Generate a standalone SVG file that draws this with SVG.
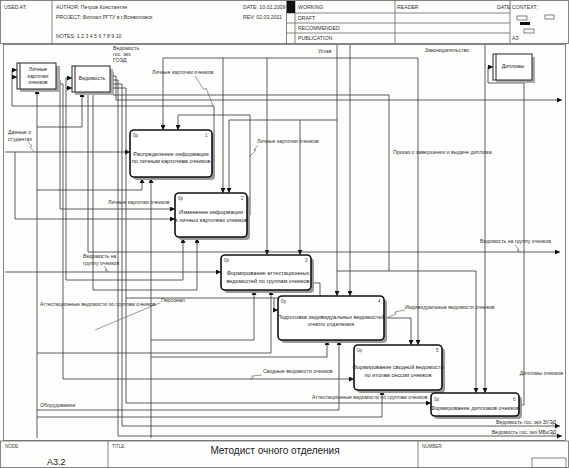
<svg xmlns="http://www.w3.org/2000/svg" width="569" height="468" viewBox="0 0 569 468">
<defs>
<marker id="ar" viewBox="0 0 8 8" refX="8" refY="4" markerWidth="5" markerHeight="5" markerUnits="userSpaceOnUse" orient="auto"><path d="M0,0L8,4L0,8z" fill="#111"/></marker>
<style>
text{font-family:"Liberation Sans",Arial,sans-serif;fill:#333}
.h{font-size:5.2px}
.l{font-size:5.2px}
.b{font-size:5.6px;text-anchor:middle;fill:#222}
.n{font-size:4.5px;fill:#444}
.frame{fill:none;stroke:#666;stroke-width:0.8}
.c path{fill:none;stroke:#333;stroke-width:0.8}
.c path.a{marker-end:url(#ar)}
.sq{fill:none;stroke:#555;stroke-width:0.6}
.box rect.s{fill:#9a9a9a}
.box rect.m{fill:#fff;stroke:#111;stroke-width:1.6}
.ref rect.s{fill:#aaa}
.ref rect.m{fill:#fff;stroke:#222;stroke-width:1}
</style>
</defs>
<rect x="0" y="0" width="569" height="468" fill="#fdfdfb"/>
<!-- header -->
<g id="header">
<rect class="frame" x="0.5" y="0.5" width="568" height="43"/>
<line class="frame" x1="52" y1="0.5" x2="52" y2="43.5"/>
<line class="frame" x1="286.5" y1="0.5" x2="286.5" y2="43.5"/>
<line class="frame" x1="295" y1="0.5" x2="295" y2="43.5"/>
<line class="frame" x1="395" y1="0.5" x2="395" y2="43.5"/>
<line class="frame" x1="510" y1="0.5" x2="510" y2="43.5"/>
<line class="frame" x1="286.5" y1="13" x2="510" y2="13"/>
<line class="frame" x1="286.5" y1="23" x2="510" y2="23"/>
<line class="frame" x1="286.5" y1="33" x2="510" y2="33"/>
<rect x="287" y="1" width="8" height="12" fill="#111"/>
<text class="h" x="4" y="9">USED AT:</text>
<text class="h" x="56" y="9">AUTHOR:  Петров Константин</text>
<text class="h" x="56" y="19">PROJECT:  Филиал РГТУ в г.Всеволожск</text>
<text class="h" x="56" y="38">NOTES:  1  2  3  4  5  6  7  8  9  10</text>
<text class="h" x="243" y="9">DATE:  10.02.2009</text>
<text class="h" x="243" y="19">REV:  02.03.2011</text>
<text class="h" x="298" y="9">WORKING</text>
<text class="h" x="298" y="20">DRAFT</text>
<text class="h" x="298" y="30">RECOMMENDED</text>
<text class="h" x="298" y="40">PUBLICATION</text>
<text class="h" x="397" y="9">READER</text>
<text class="h" x="497" y="9">DATE</text>
<text class="h" x="512" y="9">CONTEXT:</text>
<text class="h" x="512" y="40">A3</text>
<rect x="517" y="16" width="10" height="4" fill="none" stroke="#333" stroke-width="0.6"/>
<rect x="545" y="15" width="9" height="4" fill="none" stroke="#333" stroke-width="0.6"/>
<rect x="520" y="22" width="10" height="3" fill="#111"/>
<rect x="524" y="29" width="10" height="4" fill="none" stroke="#333" stroke-width="0.6"/>
</g>
<!-- diagram frame -->
<rect class="frame" x="3.5" y="44.5" width="562" height="396"/>
<!-- footer -->
<g id="footer">
<rect class="frame" x="0.5" y="441" width="568" height="26.5"/>
<line class="frame" x1="108" y1="441" x2="108" y2="468"/>
<line class="frame" x1="418" y1="441" x2="418" y2="468"/>
<rect x="532" y="458" width="34" height="10" fill="none" stroke="#555" stroke-width="0.7"/>
<text class="n" x="5" y="448">NODE:</text>
<text class="n" x="112" y="448">TITLE:</text>
<text class="n" x="422" y="448">NUMBER:</text>
<text x="47" y="465" style="font-size:9px;fill:#222">A3.2</text>
<text x="275" y="454" style="font-size:10px;fill:#222;text-anchor:middle">Методист очного отделения</text>
</g>
<!-- connectors -->
<g id="connectors" class="c">
<path class="a" d="M212,158H214V106H12V70H17"/>
<path class="a" d="M12,77H17"/>
<path class="a" d="M247,215H250V115H178V130"/>
<path class="a" d="M337,45V296"/>
<path class="a" d="M337,120H229V193"/>
<path class="a" d="M300,120V255"/>
<path class="a" d="M350,45V296"/>
<path class="a" d="M350,58H163V130"/>
<path class="a" d="M223,58V193"/>
<path class="a" d="M267,58V255"/>
<path class="a" d="M350,58H418V345"/>
<path class="a" d="M485,45V393"/>
<path d="M110,72H113V95H389V271"/>
<path class="a" d="M337,271H476V393"/>
<path class="a" d="M110,76H116V100H562"/>
<path class="a" d="M110,80H118V436H562"/>
<path class="a" d="M110,84H122V426H560"/>
<path class="a" d="M110,88H126V403H431"/>
<path d="M311,283H320V298H126"/>
<path class="a" d="M274,298V310H278"/>
<path class="a" d="M88,92V252H560"/>
<path class="a" d="M93,92V290H197V238"/>
<path class="a" d="M37,438V89"/>
<path class="a" d="M37,190H142V178"/>
<path class="a" d="M37,353H271V290"/>
<path class="a" d="M37,410H339V340"/>
<path class="a" d="M37,417H382V390"/>
<path class="a" d="M37,127H82V92"/>
<path class="a" d="M151,438V178"/>
<path class="a" d="M151,340H254V290"/>
<path class="a" d="M151,357H327V340"/>
<path class="a" d="M5,152H130"/>
<path class="a" d="M15,152V219H175"/>
<path class="a" d="M57,80H60V209H175"/>
<path class="a" d="M57,84H63V379H354"/>
<path class="a" d="M66,280V78H72"/>
<path class="a" d="M66,88H72"/>
<path class="a" d="M66,280H183V238"/>
<path class="a" d="M5,272H221"/>
<path class="a" d="M384,318H411V345"/>
<path class="a" d="M519,405H524V83H488V67H493"/>
</g>
<!-- label squiggles -->
<g id="squiggles">
<path class="sq" d="M28,142L32,146L30,147L34,152"/>
<path class="sq" d="M195,76L204,90L206,88L213,106"/>
<path class="sq" d="M258,145L254,150L256,150L250,156"/>
<path class="sq" d="M104,266L107,270L105,270L109,272"/>
<path class="sq" d="M515,245L519,250L517,250L521,253"/>
<path class="sq" d="M405,310L395,312L396,314L386,318"/>
<path class="sq" d="M262,375L252,376L253,378L250,379"/>
<path class="sq" d="M160,303L152,306"/>
<path class="sq" d="M95,330L152,306"/>
</g>
<!-- labels -->
<g id="labels">
<text class="l" x="8" y="134">Данные о</text>
<text class="l" x="8" y="141">студентах</text>
<text class="l" x="113" y="50">Ведомость</text>
<text class="l" x="113" y="56">гос. экз</text>
<text class="l" x="113" y="62">ГОЭД</text>
<text class="l" x="152" y="74">Личные карточки очников</text>
<text class="l" x="318" y="53">Устав</text>
<text class="l" x="425" y="52">Законодательство</text>
<text class="l" x="257" y="143">Личные карточки очников</text>
<text class="l" x="393" y="154">Приказ о завершении и выдаче диплома</text>
<text class="l" x="108" y="204">Личные карточки очников</text>
<text class="l" x="83" y="258">Ведомость на</text>
<text class="l" x="83" y="265">группу очников</text>
<text class="l" x="480" y="243">Ведомость на группу очников</text>
<text class="l" x="40" y="306">Аттестационные ведомости по группам очников</text>
<text class="l" x="161" y="302">Персонал</text>
<text class="l" x="405" y="309">Индивидуальные ведомости очников</text>
<text class="l" x="263" y="373">Сводные ведомости очников</text>
<text class="l" x="563" y="375" text-anchor="end">Дипломы очников</text>
<text class="l" x="312" y="399">Аттестационные ведомости по группам очников</text>
<text class="l" x="40" y="407">Оборудование</text>
<text class="l" x="556" y="424" text-anchor="end">Ведомость гос. экз ЗУЭД</text>
<text class="l" x="556" y="434" text-anchor="end">Ведомость гос. экз МБиЭД</text>
</g>
<!-- reference boxes -->
<g id="refA" class="ref">
<rect class="s" x="20" y="66" width="40" height="26"/>
<rect class="m" x="17" y="63" width="39" height="26"/>
<line x1="20" y1="63" x2="20" y2="89" stroke="#222" stroke-width="1"/>
<text class="b" x="38" y="71" style="font-size:5.2px">Личные</text>
<text class="b" x="38" y="77.5" style="font-size:5.2px">карточки</text>
<text class="b" x="38" y="84" style="font-size:5.2px">очников</text>
</g>
<g id="refB" class="ref">
<rect class="s" x="75" y="69" width="38" height="26"/>
<rect class="m" x="72" y="66" width="38" height="26"/>
<line x1="75" y1="66" x2="75" y2="92" stroke="#222" stroke-width="1"/>
<text class="b" x="92" y="80" style="font-size:5.2px">Ведомость</text>
</g>
<g id="refC" class="ref">
<rect class="s" x="496" y="57" width="39" height="26"/>
<rect class="m" x="493" y="54" width="39" height="26"/>
<line x1="496" y1="54" x2="496" y2="80" stroke="#222" stroke-width="1"/>
<text class="b" x="513" y="68" style="font-size:5.2px">Дипломы</text>
</g>
<!-- activity boxes -->
<g id="box1" class="box">
<rect class="s" x="133" y="133" width="82" height="47" rx="4"/>
<rect class="m" x="130" y="130" width="82" height="47" rx="4"/>
<text class="n" x="133" y="137">0р</text><text class="n" x="205" y="137">1</text>
<text class="b" x="171" y="156">Распределение информации</text>
<text class="b" x="171" y="163">по личным карточкам очников</text>
</g>
<g id="box2" class="box">
<rect class="s" x="178" y="196" width="72" height="44" rx="4"/>
<rect class="m" x="175" y="193" width="72" height="44" rx="4"/>
<text class="n" x="178" y="200">0р</text><text class="n" x="241" y="200">2</text>
<text class="b" x="211" y="214">Изменение информации</text>
<text class="b" x="211" y="222">в личных карточках очников</text>
</g>
<g id="box3" class="box">
<rect class="s" x="224" y="258" width="90" height="35" rx="4"/>
<rect class="m" x="221" y="255" width="90" height="35" rx="4"/>
<text class="n" x="224" y="262">0р</text><text class="n" x="305" y="262">3</text>
<text class="b" x="268" y="275">Формирование аттестационных</text>
<text class="b" x="268" y="283">ведомостей по группам очников</text>
</g>
<g id="box4" class="box">
<rect class="s" x="281" y="299" width="106" height="44" rx="4"/>
<rect class="m" x="278" y="296" width="106" height="44" rx="4"/>
<text class="n" x="281" y="303">0р</text><text class="n" x="378" y="303">4</text>
<text class="b" x="331" y="319">Подготовка индивидуальных ведомостей</text>
<text class="b" x="331" y="326">очного отделения</text>
</g>
<g id="box5" class="box">
<rect class="s" x="357" y="348" width="88" height="45" rx="4"/>
<rect class="m" x="354" y="345" width="88" height="45" rx="4"/>
<text class="n" x="357" y="352">0р</text><text class="n" x="436" y="352">5</text>
<text class="b" x="398" y="369">Формирование сводной ведомости</text>
<text class="b" x="398" y="377">по итогам сессии очников</text>
</g>
<g id="box6" class="box">
<rect class="s" x="434" y="396" width="88" height="23" rx="4"/>
<rect class="m" x="431" y="393" width="88" height="23" rx="4"/>
<text class="n" x="434" y="401">0р</text><text class="n" x="513" y="401">6</text>
<text class="b" x="475" y="410">Формирование дипломов очников</text>
</g>
</svg>
